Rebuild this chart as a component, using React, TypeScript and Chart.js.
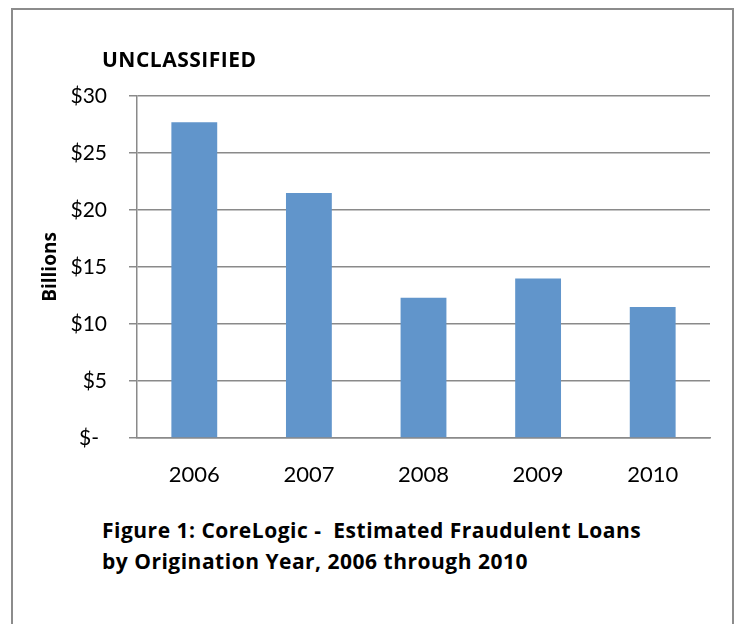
import React, { useEffect, useRef } from "react";
import { Chart, registerables } from "chart.js";

Chart.register(...registerables);

const years = ["2006", "2007", "2008", "2009", "2010"];
const fraudBillions = [27.7, 21.5, 12.3, 14.0, 11.5];
const yMax = 30;
const yStep = 5;
const titleText = "UNCLASSIFIED";
const yAxisTitle = "Billions";
const captionLines = [
  "Figure 1: CoreLogic -  Estimated Fraudulent Loans",
  "by Origination Year, 2006 through 2010",
];

const FONT = "Lato, 'Open Sans', sans-serif";
const BOLD_FONT = "'Open Sans', Lato, sans-serif";
const GRID = "#8a8a8a";

export default function App() {
  const ref = useRef<HTMLCanvasElement | null>(null);

  useEffect(() => {
    if (!ref.current) return;
    const chart = new Chart(ref.current, {
      type: "bar",
      data: {
        labels: years,
        datasets: [
          {
            data: fraudBillions,
            backgroundColor: "#6195cb",
            borderWidth: 0,
            categoryPercentage: 1,
            barPercentage: 0.4,
          },
        ],
      },
      options: {
        animation: false,
        responsive: true,
        maintainAspectRatio: false,
        layout: { padding: { left: 30, top: 96, right: 33, bottom: 2 } },
        plugins: {
          legend: { display: false },
          tooltip: { enabled: false },
          title: { display: false },
        },
        scales: {
          x: {
            grid: { display: false, drawTicks: false },
            border: { display: true, color: GRID, width: 1.5 },
            ticks: {
              color: "#000",
              font: { family: FONT, size: 22 },
              padding: 24,
            },
            afterFit: (s: any) => {
              s.height = 60;
            },
          },
          y: {
            min: 0,
            max: yMax,
            ticks: {
              stepSize: yStep,
              color: "#000",
              font: { family: FONT, size: 21 },
              padding: 22,
              callback: (v: any) => (Number(v) === 0 ? "$- \u2009" : "$" + v),
            },
            grid: { color: GRID, lineWidth: 1.5, tickLength: 8 },
            border: { color: GRID, width: 1.5 },
            title: {
              display: true,
              text: yAxisTitle,
              color: "#000",
              font: { family: BOLD_FONT, size: 19, weight: "bold" },
              padding: { top: 9, bottom: 0 },
            },
            afterFit: (s: any) => {
              s.width = 107;
            },
          },
        },
      },
    });
    return () => chart.destroy();
  }, []);

  return (
    <div
      style={{
        position: "absolute",
        left: 0,
        top: 0,
        width: 743,
        height: 624,
        overflow: "hidden",
        background: "#fff",
        fontFamily: BOLD_FONT,
      }}
    >
      <div
        style={{
          position: "absolute",
          left: 11,
          top: 8,
          width: 719,
          height: 640,
          border: "2px solid #8c8c8c",
        }}
      />
      <div style={{ position: "absolute", left: 0, top: 0, width: 743, height: 500 }}>
        <canvas ref={ref} />
      </div>
      <div
        style={{
          position: "absolute",
          left: 102,
          top: 45,
          fontSize: 21,
          letterSpacing: 0.5,
          fontWeight: "bold",
          color: "#000",
          lineHeight: "29px",
        }}
      >
        {titleText}
      </div>
      <div
        style={{
          position: "absolute",
          left: 102,
          top: 515,
          fontSize: 21,
          letterSpacing: 0.5,
          fontWeight: "bold",
          color: "#000",
          lineHeight: "31px",
          whiteSpace: "pre",
        }}
      >
        {captionLines.map((l, i) => (
          <div key={i}>{l}</div>
        ))}
      </div>
    </div>
  );
}
